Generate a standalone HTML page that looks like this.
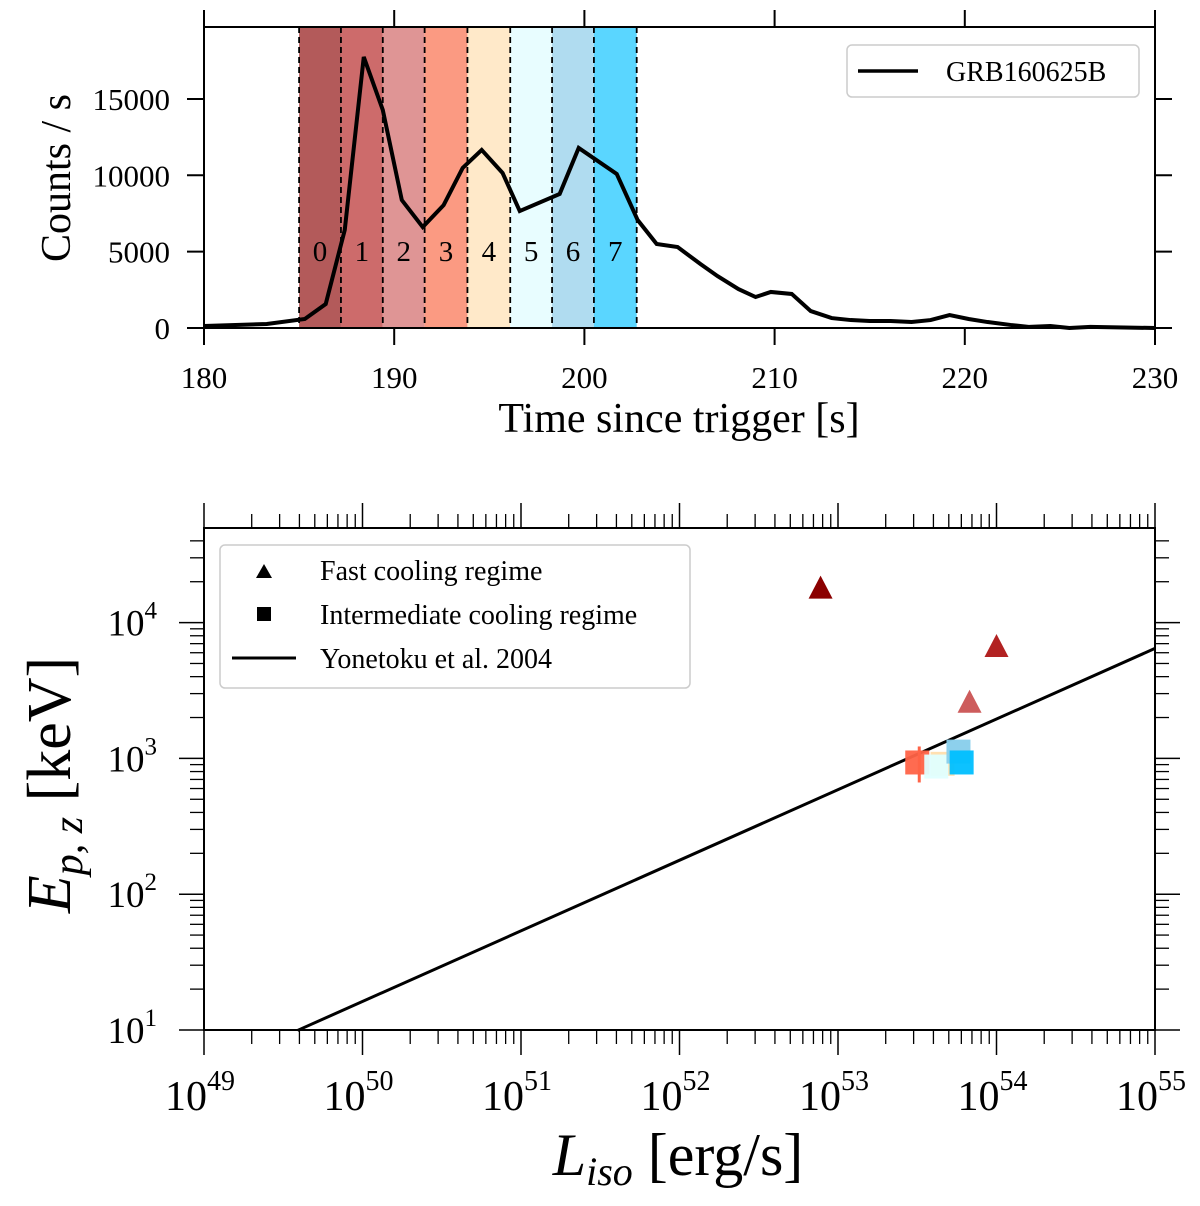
<!DOCTYPE html>
<html><head><meta charset="utf-8"><style>
body{margin:0;background:#fff}
svg{display:block;font-family:"Liberation Serif",serif}
</style></head><body>
<svg id="chart" width="1200" height="1206" viewBox="0 0 1200 1206" xmlns="http://www.w3.org/2000/svg">
<g id="top"></g>
<g id="bot"></g>
</svg>
<script>
// ---- top panel data ----
const lcTime=[180,183.3,185.3,186.4,187.4,188.4,189.4,190.4,191.5,192.6,193.6,194.6,195.7,196.6,198.7,199.7,201.7,202.8,203.8,204.9,206.1,207.0,208.1,209.0,209.8,210.9,211.9,213.0,214.0,215.0,216.1,217.2,218.2,219.2,220.2,221.2,222.4,223.4,224.5,225.5,226.6,230];
const lcCounts=[130,260,590,1570,6420,17750,14280,8380,6610,8050,10480,11660,10150,7660,8780,11790,10090,7070,5500,5300,4190,3400,2550,2030,2360,2230,1110,650,520,460,460,390,520,850,590,390,200,70,130,0,70,0];
const bandEdges=[185,187.2,189.4,191.6,193.85,196.1,198.3,200.5,202.75];
const bandLabels=["0","1","2","3","4","5","6","7"];
const bandColors=["#b35a5a","#cd6b6b","#df9595","#fb9a82","#ffe9c9","#e8fdff","#b0dcf0","#5ad6ff"];
const topXTicks=[180,190,200,210,220,230];
const topYTicks=[0,5000,10000,15000];
// ---- bottom panel data ----
const triL=[52.89,54.0,53.83]; // log10 Liso
const triE=[4.25,3.82,3.41];   // log10 Ep,z
const triColors=["#8b0000","#b22222","#cd5c5c"];
const sqL=[53.5,53.66,53.62,53.76,53.78];
const sqE=[2.97,2.96,2.94,3.05,2.97];
const sqColors=["#ff6347","#ffdead","#e0ffff","#87ceeb","#00bfff"];
const yoneSlope=0.52, yoneIntercept=2.25; // logE = intercept + slope*(logL-52)
const botXTicks=[49,50,51,52,53,54,55];
const botYTicks=[1,2,3,4];

const NS="http://www.w3.org/2000/svg";
function mk(p,tag,attrs,text){const e=document.createElementNS(NS,tag);for(const k in attrs)e.setAttribute(k,attrs[k]);if(text!==undefined)e.textContent=text;p.appendChild(e);return e;}

// ===== TOP =====
const T=document.getElementById('top');
const tx0=204,tx1=1155,ty0=27,ty1=328;
const tX=t=>tx0+(t-180)/50*(tx1-tx0);
const tY=c=>ty1-c*0.01527;
for(let i=0;i<bandLabels.length;i++){
  const r=mk(T,'rect',{x:tX(bandEdges[i]),y:ty0,width:tX(bandEdges[i+1])-tX(bandEdges[i]),height:ty1-ty0,fill:bandColors[i]});
  
  
  const l=mk(T,'text',{x:(tX(bandEdges[i])+tX(bandEdges[i+1]))/2,y:261,'font-size':29,'text-anchor':'middle'},bandLabels[i]);
  
  
}
bandEdges.forEach((e,i)=>{
  const d=mk(T,'line',{x1:tX(e),x2:tX(e),y1:ty0,y2:ty1,stroke:'#000','stroke-width':1.8,'stroke-dasharray':'6,4'});
  
  
});
const lc=mk(T,'polyline',{points:lcTime.map((t,i)=>tX(t)+','+tY(lcCounts[i])).join(' '),fill:'none',stroke:'#000','stroke-width':4,'stroke-linejoin':'miter'});


mk(T,'rect',{x:tx0,y:ty0,width:tx1-tx0,height:ty1-ty0,fill:'none',stroke:'#000','stroke-width':2});
topXTicks.forEach(v=>{
  const x=tX(v);
  mk(T,'line',{x1:x,x2:x,y1:ty1,y2:ty1+17,stroke:'#000','stroke-width':2});
  mk(T,'line',{x1:x,x2:x,y1:ty0,y2:ty0-17,stroke:'#000','stroke-width':2});
  const l=mk(T,'text',{x:x,y:388,'font-size':31,'text-anchor':'middle'},String(v));
  
  
});
topYTicks.forEach(v=>{
  const y=tY(v);
  mk(T,'line',{x1:tx0,x2:tx0-17,y1:y,y2:y,stroke:'#000','stroke-width':2});
  mk(T,'line',{x1:tx1,x2:tx1+17,y1:y,y2:y,stroke:'#000','stroke-width':2});
  const l=mk(T,'text',{x:170,y:y+11,'font-size':31,'text-anchor':'end'},String(v));
  
  
});
</script>
<script>
// static labels top
(function(){
const T=document.getElementById('top');
const xl=mk(T,'text',{x:679,y:432,'font-size':42,'text-anchor':'middle'},'Time since trigger [s]');


const yl=mk(T,'text',{x:0,y:0,'font-size':42,'text-anchor':'middle',transform:'translate(70,178) rotate(-90)'},'Counts / s');


const lg=mk(T,'g',{});


mk(lg,'rect',{x:847,y:45,width:292,height:52,rx:5,fill:'#fff',stroke:'#ccc','stroke-width':1.5});
mk(lg,'line',{x1:858,x2:918,y1:71,y2:71,stroke:'#000','stroke-width':3.5});
mk(lg,'text',{x:946,y:81,'font-size':28},'GRB160625B');
})();
</script>
<script>
// ===== BOTTOM =====
(function(){
const B=document.getElementById('bot');
const bx0=204,bx1=1155,by0=528,by1=1030;
const bX=l=>bx0+(l-49)*158.5;
const bY=e=>by1-(e-1)*135.8;
const lA=49.59,lB=55;
const yl=mk(B,'line',{x1:bX(lA),y1:bY(yoneIntercept+yoneSlope*(lA-52)),x2:bX(lB),y2:bY(yoneIntercept+yoneSlope*(lB-52)),stroke:'#000','stroke-width':3});


mk(B,'line',{x1:bX(sqL[0])+2,x2:bX(sqL[0])+2,y1:bY(sqE[0])-16,y2:bY(sqE[0])+20,stroke:sqColors[0],'stroke-width':3});
sqL.forEach((l,i)=>{
  const x=bX(l),y=bY(sqE[i]);
  const s=mk(B,'rect',{x:x-12,y:y-12,width:24,height:24,fill:sqColors[i],'fill-opacity':0.95});
  
  
});
triL.forEach((l,i)=>{
  const x=bX(l),y=bY(triE[i]);
  const t=mk(B,'polygon',{points:`${x},${y-13} ${x-12},${y+10} ${x+12},${y+10}`,fill:triColors[i]});
  
  
});
mk(B,'rect',{x:bx0,y:by0,width:bx1-bx0,height:by1-by0,fill:'none',stroke:'#000','stroke-width':2});
for(let d=49;d<=55;d++){
  [bY(1),by0].forEach((yy,k)=>{
    const dir=k==0?1:-1;
    mk(B,'line',{x1:bX(d),x2:bX(d),y1:yy,y2:yy+dir*25,stroke:'#000','stroke-width':1.5});
    if(d<55)for(let m=2;m<=9;m++){const x=bX(d+Math.log10(m));mk(B,'line',{x1:x,x2:x,y1:yy,y2:yy+dir*14,stroke:'#000','stroke-width':1.3});}
  });
}
botXTicks.forEach(d=>{
  const t=mk(B,'text',{x:bX(d)-4,y:1110,'font-size':42,'text-anchor':'middle'});
  
  
  mk(t,'tspan',{},'10');
  mk(t,'tspan',{dy:-20,'font-size':28},String(d));
});
for(let d=1;d<=4;d++){
  [bx0,bx1].forEach((xx,k)=>{
    const dir=k==0?-1:1;
    mk(B,'line',{x1:xx,x2:xx+dir*25,y1:bY(d),y2:bY(d),stroke:'#000','stroke-width':1.5});
    for(let m=2;m<=9;m++){const e=d+Math.log10(m);if(bY(e)<by0)continue;const y=bY(e);mk(B,'line',{x1:xx,x2:xx+dir*14,y1:y,y2:y,stroke:'#000','stroke-width':1.3});}
  });
}
botYTicks.forEach(d=>{
  const t=mk(B,'text',{x:157,y:bY(d)+13,'font-size':37,'text-anchor':'end'});
  
  
  mk(t,'tspan',{},'10');
  mk(t,'tspan',{dy:-17,'font-size':25},String(d));
});
const xt=mk(B,'text',{x:678,y:1175,'font-size':60,'text-anchor':'middle'});


mk(xt,'tspan',{'font-style':'italic'},'L');
mk(xt,'tspan',{'font-style':'italic','font-size':40,dy:10},'iso');
mk(xt,'tspan',{dy:-10},' [erg/s]');
const yt=mk(B,'text',{x:0,y:0,'font-size':62,'text-anchor':'middle',transform:'translate(70,785) rotate(-90)'});


mk(yt,'tspan',{'font-style':'italic'},'E');
mk(yt,'tspan',{'font-style':'italic','font-size':42,dy:12},'p, z');
mk(yt,'tspan',{dy:-12},' [keV]');
const lg=mk(B,'g',{});


mk(lg,'rect',{x:220,y:545,width:470,height:143,rx:5,fill:'#fff',stroke:'#ccc','stroke-width':1.5});
mk(lg,'polygon',{points:'264,564 256,578 272,578',fill:'#000'});
mk(lg,'text',{x:320,y:580,'font-size':28},'Fast cooling regime');
mk(lg,'rect',{x:257,y:607,width:14,height:14,fill:'#000'});
mk(lg,'text',{x:320,y:624,'font-size':28},'Intermediate cooling regime');
mk(lg,'line',{x1:232,x2:296,y1:658,y2:658,stroke:'#000','stroke-width':3});
mk(lg,'text',{x:320,y:668,'font-size':28},'Yonetoku et al. 2004');
})();
</script>
</body></html>
